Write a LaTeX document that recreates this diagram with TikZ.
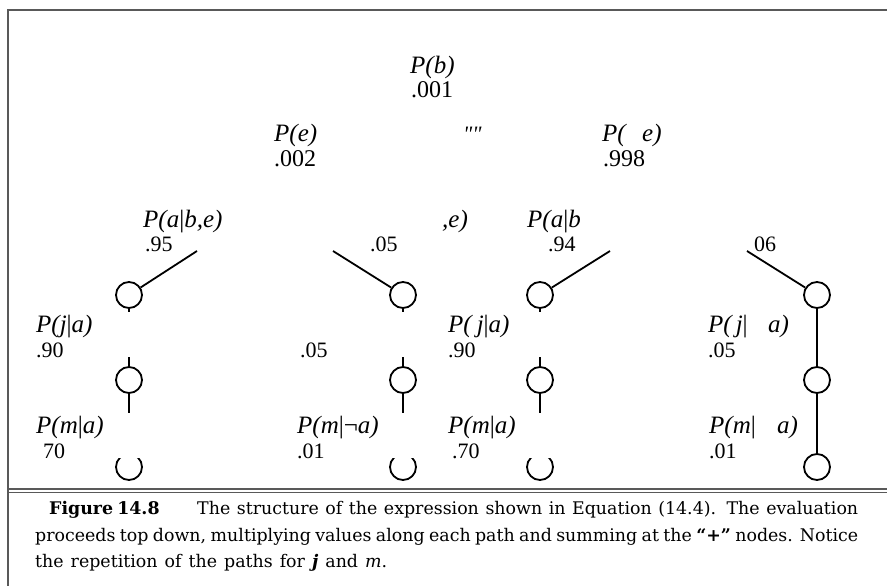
\documentclass[tikz,border=0pt]{standalone}
\usepackage{fontspec}
\setmainfont{Liberation Serif}
\newfontfamily\capfont{DejaVu Serif}
\newfontfamily\qfont{Liberation Serif}
\newcommand{\labfont}{\fontsize{25}{28}\selectfont\itshape}
\newcommand{\bignum}{\fontsize{24}{28}\selectfont}
\newcommand{\numfont}{\fontsize{22}{26}\selectfont}
\newcommand{\br}{\textup{|}}
\tikzset{
  lab/.style={anchor=base west, inner sep=0pt, font=\labfont},
  numtop/.style={anchor=base west, inner sep=0pt, font=\bignum},
  num/.style={anchor=base west, inner sep=0pt, font=\numfont},
  dot/.style={circle, draw, line width=1.8pt, minimum size=26pt, inner sep=0pt},
  wire/.style={line width=1.8pt},
  frameline/.style={draw=black!65, line width=1.6pt},
  captext/.style={anchor=base west, inner sep=0pt, font=\capfont\fontsize{17.4}{19}\selectfont}
}
\begin{document}
\begin{tikzpicture}[x=1pt,y=-1pt]
\useasboundingbox (0,0) rectangle (887,586);
% frame
\coordinate (fTL) at (8,10);
\coordinate (fTR) at (887,10);
\coordinate (fBL) at (8,586);
\coordinate (hA1) at (8,489);
\coordinate (hA2) at (887,489);
\coordinate (hB1) at (8,492.5);
\coordinate (hB2) at (887,492.5);
\draw[frameline] (fTR) -- (fTL) -- (fBL);
\draw[frameline, line width=1.2pt] (hA1) -- (hA2);
\draw[frameline, line width=1.2pt] (hB1) -- (hB2);

% top labels
\node[lab] (pb) at (410,74) {P(b)};
\node[numtop] (v001) at (411,98) {.001};
\begin{scope}
\clip (265,100) rectangle (316,172);
\node[lab] (pe) at (274,142) {P(e)};
\node[numtop] (v002) at (274,166) {.002};
\end{scope}
\node[anchor=base west, inner sep=0pt, font=\qfont\fontsize{22}{26}\selectfont\itshape] (qq) at (463,141) {""};
\node[lab] (pne1) at (602,142) {P(};
\node[lab] (pne2) at (642,142) {e)};
\node[numtop] (v998) at (603,166) {.998};

% row of a labels
\node[lab] (pabe) at (143,227) {P(a\br b,e)};
\node[num] (v95) at (145,251) {.95};
\node[lab] (pabne) at (442,227) {,e)};
\node[num] (v05a) at (370,251) {.05};
\node[lab] (pabn) at (527,227) {P(a\br b};
\node[num] (v94) at (548,251) {.94};
\node[num] (v06) at (754,251) {06};

% j labels
\node[lab] (pj1) at (36,332) {P(j\br a)};
\node[num] (v90a) at (36,357) {.90};
\node[num] (v05b) at (300,357) {.05};
\node[lab] (pj3) at (448,332) {P(\hspace{5pt}j\br a)};
\node[num] (v90b) at (448,357) {.90};
\node[lab] (pj4a) at (708,332) {P(\hspace{4pt}j\br};
\node[lab] (pj4b) at (768,332) {a)};
\node[num] (v05c) at (708,357) {.05};

% m labels
\node[lab] (pm1) at (36,433) {P(m\br a)};
\node[num] (v70a) at (43,458) {70};
\node[lab] (pm2) at (297,433) {P(m\br\textup{¬}a)};
\node[num] (v01a) at (297,458) {.01};
\node[lab] (pm3) at (448,433) {P(m\br a)};
\node[num] (v70b) at (452,458) {.70};
\node[lab] (pm4a) at (709,433) {P(m\br};
\node[lab] (pm4b) at (777,433) {a)};
\node[num] (v01b) at (709,458) {.01};

% circles rows 1,2
\foreach \c/\x in {1/129,2/403,3/540,4/817}{
  \node[dot] (c\c1) at (\x,295) {};
  \node[dot] (c\c2) at (\x,380) {};
}
\node[dot] (c43) at (817,467) {};
\begin{scope}
\clip (100,458) rectangle (600,486);
\node[dot] (c13) at (129,467) {};
\node[dot] (c23) at (403,467) {};
\node[dot] (c33) at (540,467) {};
\end{scope}

% incoming branch wires
\coordinate (t1) at (197,251);
\coordinate (t2) at (333,251);
\coordinate (t3) at (610,251);
\coordinate (t4) at (747,251);
\draw[wire] (t1) -- (c11);
\draw[wire] (t2) -- (c21);
\draw[wire] (t3) -- (c31);
\draw[wire] (t4) -- (c41);

% stubs
\foreach \c/\x in {1/129,2/403,3/540}{
  \coordinate (s\c) at (\x,312);
  \coordinate (u\c) at (\x,357);
  \coordinate (d\c) at (\x,413);
  \draw[wire] (c\c1.south) -- (s\c);
  \draw[wire] (u\c) -- (c\c2.north);
  \draw[wire] (c\c2.south) -- (d\c);
}
\draw[wire] (c41) -- (c42);
\draw[wire] (c42) -- (c43);

% caption
\node[captext] (cap1a) at (49,514) {\makebox[108pt][s]{\bfseries Figure 14.8}};
\node[captext] (cap1b) at (197,514) {\makebox[661pt][s]{The structure of the expression shown in Equation (14.4). The evaluation}};
\node[captext] (cap2) at (35,541) {\makebox[823pt][s]{proceeds top down, multiplying values along each path and summing at the {\bfseries “+”} nodes. Notice}};
\node[captext] (cap3) at (35,567) {\makebox[352pt][s]{the repetition of the paths for {\bfseries\itshape j} and {\itshape m}.}};
\end{tikzpicture}
\end{document}
